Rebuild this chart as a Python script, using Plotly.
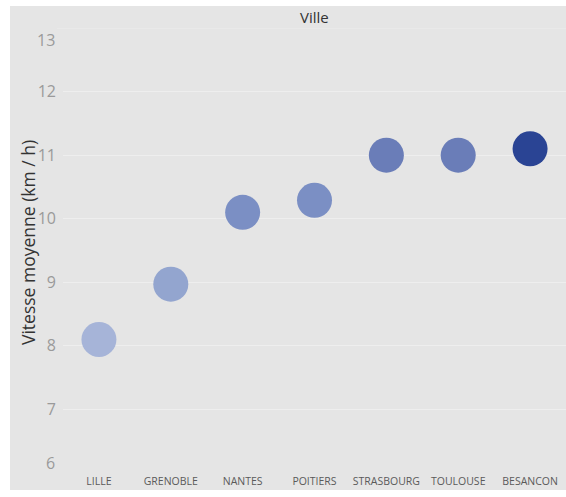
import plotly.graph_objects as go

villes = ["LILLE", "GRENOBLE", "NANTES", "POITIERS", "STRASBOURG", "TOULOUSE", "BESANCON"]
vitesse = [8.1, 8.97, 10.1, 10.29, 11.0, 11.0, 11.1]
couleurs = ["#a6b4d8", "#93a5cf", "#7b8fc4", "#7b8fc4", "#6a7db8", "#6a7db8", "#2a4494"]
y_ticks = [7, 8, 9, 10, 11, 12]

BG = "#e5e5e5"
GRID = "#eeeeee"
FONT = "Open Sans"
TICKC = "#9a9a9a"

ml, mr, mt, mb = 63, 0, 28, 24
W, H = 566, 497
pw, ph = W - ml - mr, H - mt - mb

fig = go.Figure()
fig.add_trace(go.Scatter(
    x=villes, y=vitesse, mode="markers",
    marker=dict(size=35, color=couleurs, line=dict(width=0)),
    hoverinfo="x+y",
))

fig.update_layout(
    width=W, height=H,
    margin=dict(l=ml, r=mr, t=mt, b=mb),
    paper_bgcolor="white",
    plot_bgcolor=BG,
    showlegend=False,
    font=dict(family=FONT),
    xaxis=dict(
        type="category", range=[-0.5, 6.5], showgrid=False, zeroline=False,
        showline=False, ticks="", tickfont=dict(size=10.5, color="#5a5a5a", family=FONT),
    ),
    yaxis=dict(
        range=[6, 13], tickvals=y_ticks, showgrid=True, gridcolor=GRID, gridwidth=1,
        zeroline=False, showline=False, ticks="", ticklabelstandoff=6,
        tickfont=dict(size=16, color=TICKC, family=FONT),
    ),
    shapes=[
        dict(type="rect", xref="paper", yref="paper",
             x0=(10 - ml) / pw, x1=1, y0=(mt + ph - 490) / ph, y1=(mt + ph - 6) / ph,
             fillcolor=BG, line=dict(width=0), layer="below"),
        dict(type="line", xref="paper", yref="y",
             x0=(57 - ml) / pw, x1=1, y0=13, y1=13,
             line=dict(color=GRID, width=1), layer="below"),
    ],
    annotations=[
        dict(text="Ville", xref="paper", yref="paper", x=0.5, y=(mt + ph - 17) / ph,
             showarrow=False, font=dict(size=15, color="#333333", family=FONT),
             xanchor="center", yanchor="middle"),
        dict(text="Vitesse moyenne (km / h)", xref="paper", yref="paper",
             x=(28 - ml) / pw, y=(mt + ph - 243) / ph, textangle=-90,
             showarrow=False, font=dict(size=17.5, color="#333333", family=FONT),
             xanchor="center", yanchor="middle"),
        dict(text="13", xref="paper", yref="y", x=(57 - ml) / pw, y=13, yshift=-12,
             showarrow=False, xanchor="right", yanchor="middle",
             font=dict(size=16, color=TICKC, family=FONT)),
        dict(text="6", xref="paper", yref="y", x=(57 - ml) / pw, y=6, yshift=10,
             showarrow=False, xanchor="right", yanchor="middle",
             font=dict(size=16, color=TICKC, family=FONT)),
    ],
)

fig.write_html("out.html")
